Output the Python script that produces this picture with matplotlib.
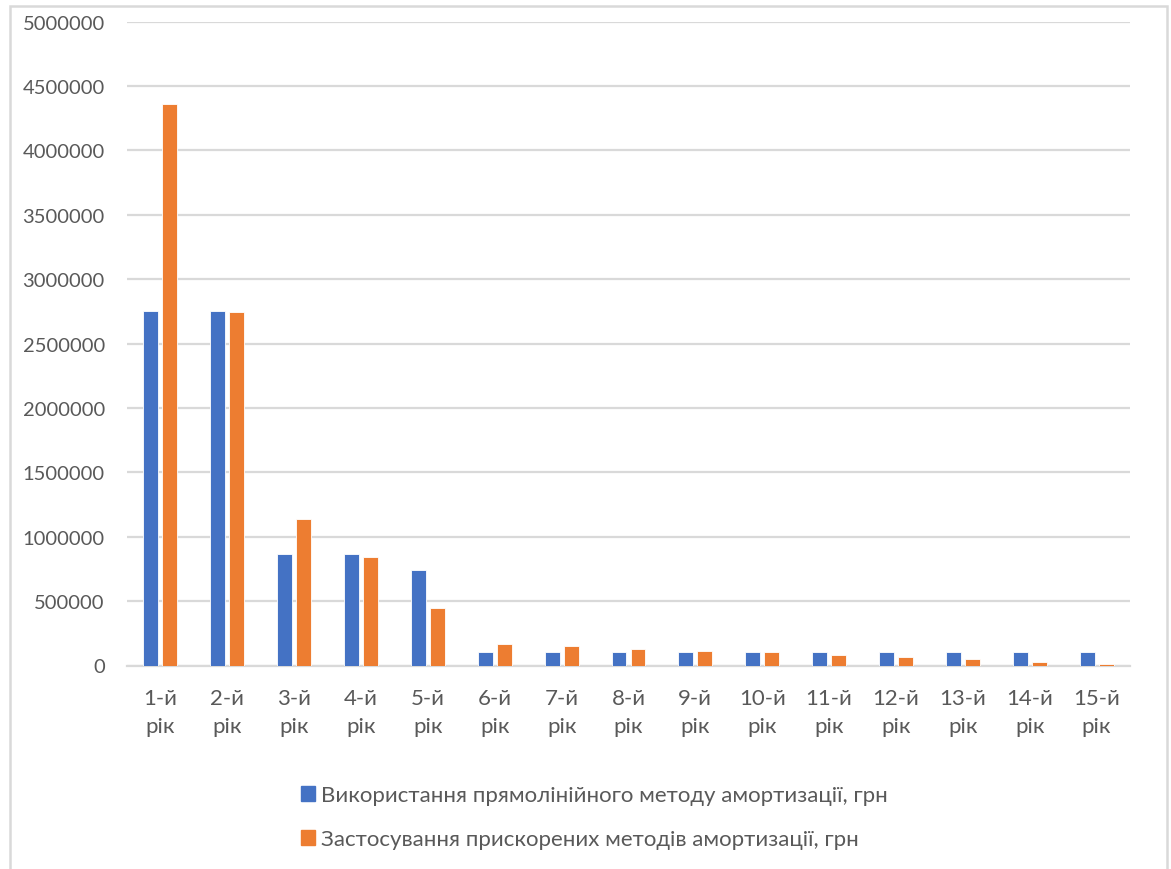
import numpy as np
import matplotlib.pyplot as plt
from matplotlib.patches import Rectangle, Patch

plt.rcParams['font.family'] = ['Lato', 'DejaVu Sans']

years = ['1-й\nрік', '2-й\nрік', '3-й\nрік', '4-й\nрік', '5-й\nрік',
         '6-й\nрік', '7-й\nрік', '8-й\nрік', '9-й\nрік', '10-й\nрік',
         '11-й\nрік', '12-й\nрік', '13-й\nрік', '14-й\nрік', '15-й\nрік']
straight = [2756000, 2756000, 862000, 862000, 745000,
            105000, 105000, 105000, 105000, 105000,
            105000, 105000, 105000, 105000, 105000]
accel = [4363000, 2741000, 1134000, 846000, 443000,
         164000, 150000, 130000, 116000, 101000,
         80000, 65000, 52000, 31000, 13000]
label_straight = 'Використання прямолінійного методу амортизації, грн'
label_accel = 'Застосування прискорених методів амортизації, грн'

blue = '#4472C4'
orange = '#ED7D31'
txt = '#595959'
grid = '#D9D9D9'

fig = plt.figure(figsize=(11.71, 8.70), dpi=100)
ax = fig.add_axes([127 / 1171, 1 - 666.5 / 870, (1130 - 127) / 1171, (666.5 - 22.5) / 870])

x = np.arange(len(years))
w = 0.224
gap = 0.06
ax.bar(x - (w + gap) / 2, straight, width=w, color=blue, edgecolor='white', linewidth=0.6, zorder=3)
ax.bar(x + (w + gap) / 2, accel, width=w, color=orange, edgecolor='white', linewidth=0.6, zorder=3)

ax.set_xlim(-0.5, len(years) - 0.5)
ax.set_ylim(0, 5000000)
ax.set_yticks(np.arange(0, 5000001, 500000))
ax.yaxis.set_major_formatter(plt.FuncFormatter(lambda v, p: '%d' % v))
ax.set_xticks(x)
ax.set_xticklabels(years, linespacing=1.5)
ax.tick_params(axis='both', length=0, colors=txt)
ax.tick_params(axis='y', pad=16, labelsize=14.5)
ax.tick_params(axis='x', pad=16, labelsize=16)
ax.grid(axis='y', color=grid, linewidth=1.6, zorder=0)
for s in ['top', 'right', 'left']:
    ax.spines[s].set_visible(False)
ax.spines['bottom'].set_color(grid)
ax.spines['bottom'].set_linewidth(1.6)

handles = [Patch(color=blue), Patch(color=orange)]
fig.legend(handles, [label_straight, label_accel], loc='upper left',
           bbox_to_anchor=(301 / 1171, 1 - 786 / 870), frameon=False,
           borderaxespad=0, borderpad=0, handlelength=0.65, handleheight=0.65,
           handletextpad=0.25, labelspacing=1.1, fontsize=16, labelcolor=txt)

fig.patches.append(Rectangle((10 / 1171, -0.05), (1167 - 10) / 1171, 1.05 - 7 / 870,
                             transform=fig.transFigure, fill=False,
                             edgecolor=grid, linewidth=1.8))

fig.savefig('out.png', dpi=100)
